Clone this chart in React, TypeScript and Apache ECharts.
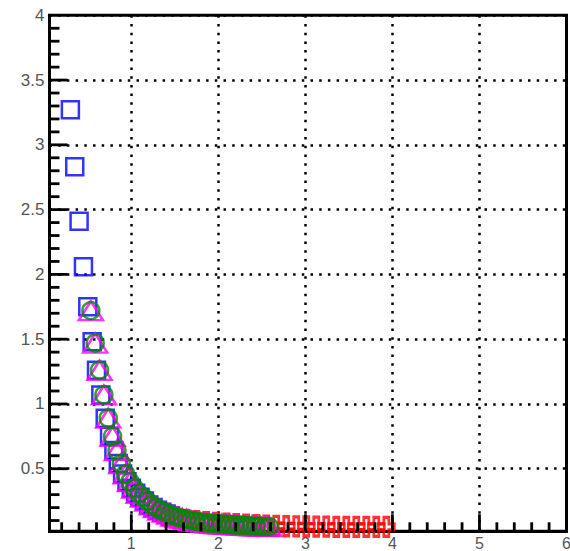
import React, { useEffect, useRef } from "react";
import * as echarts from "echarts";

// Blue open squares
const blueX = [0.30, 0.35, 0.40, 0.45, 0.50, 0.55, 0.60, 0.65, 0.70, 0.75, 0.80, 0.85, 0.90, 0.95, 1.00, 1.05, 1.10, 1.15, 1.20, 1.25, 1.30, 1.35, 1.40, 1.45];
const blueY = [3.27, 2.83, 2.41, 2.06, 1.75, 1.48, 1.26, 1.07, 0.89, 0.75, 0.64, 0.54, 0.46, 0.40, 0.35, 0.31, 0.28, 0.25, 0.22, 0.20, 0.18, 0.165, 0.15, 0.135];

// Green open circles and magenta open triangles (same points)
const greenX = [0.535, 0.585, 0.635, 0.685, 0.735, 0.785, 0.835, 0.885, 0.935, 0.985, 1.035, 1.085, 1.135, 1.185, 1.235, 1.285, 1.335, 1.385, 1.435, 1.485, 1.535, 1.585, 1.635, 1.685, 1.735, 1.785, 1.835, 1.885, 1.935, 1.985, 2.035, 2.085, 2.135, 2.185, 2.235, 2.285, 2.335, 2.385, 2.435, 2.485, 2.535, 2.585];
const greenY = [1.72, 1.47, 1.26, 1.07, 0.89, 0.75, 0.64, 0.54, 0.46, 0.40, 0.35, 0.31, 0.28, 0.25, 0.22, 0.20, 0.18, 0.165, 0.15, 0.135, 0.125, 0.115, 0.11, 0.10, 0.095, 0.09, 0.085, 0.08, 0.078, 0.075, 0.072, 0.07, 0.068, 0.066, 0.064, 0.062, 0.06, 0.058, 0.056, 0.055, 0.054, 0.053];
const magentaX = greenX;
const magentaY = greenY;

// Red open crosses
const redX = [1.40, 1.515, 1.63, 1.745, 1.86, 1.975, 2.09, 2.205, 2.32, 2.435, 2.55, 2.665, 2.78, 2.895, 3.01, 3.125, 3.24, 3.355, 3.47, 3.585, 3.70, 3.815, 3.93];
const redY = [0.14, 0.12, 0.105, 0.095, 0.088, 0.082, 0.077, 0.072, 0.068, 0.064, 0.06, 0.058, 0.056, 0.055, 0.054, 0.053, 0.053, 0.052, 0.052, 0.052, 0.051, 0.051, 0.051];

// Axis tick positions
const xMajorTicks = [1, 2, 3, 4, 5];
const xMinorTicks = [0.2, 0.4, 0.6, 0.8, 1.2, 1.4, 1.6, 1.8, 2.2, 2.4, 2.6, 2.8, 3.2, 3.4, 3.6, 3.8, 4.2, 4.4, 4.6, 4.8, 5.2, 5.4, 5.6, 5.8];
const yMajorTicks = [0.5, 1, 1.5, 2, 2.5, 3, 3.5];
const yMinorTicks = [0.1, 0.2, 0.3, 0.4, 0.6, 0.7, 0.8, 0.9, 1.1, 1.2, 1.3, 1.4, 1.6, 1.7, 1.8, 1.9, 2.1, 2.2, 2.3, 2.4, 2.6, 2.7, 2.8, 2.9, 3.1, 3.2, 3.3, 3.4, 3.6, 3.7, 3.8, 3.9];

const X_MIN = 0.06;
const X_MAX = 6;
const Y_MIN = 0.017;
const Y_MAX = 4;

const zip = (xs: number[], ys: number[]) => xs.map((x, i) => [x, ys[i]]);

const CROSS = "path://M5.5,0 L10.5,0 L10.5,5.5 L16,5.5 L16,10.5 L10.5,10.5 L10.5,16 L5.5,16 L5.5,10.5 L0,10.5 L0,5.5 L5.5,5.5 Z";

const TW = 2.8; // tick thickness

// Tick marks as scatter symbols (thin rects), anchored on the axes' own scales
function xTickSeries(vals: number[], len: number) {
  return {
    type: "scatter",
    silent: true,
    clip: false,
    z: 5,
    data: vals.map((v) => [v, Y_MIN]),
    symbol: "rect",
    symbolSize: [TW, len],
    symbolOffset: [0, -len / 2],
    itemStyle: { color: "#000", opacity: 1 },
  };
}
function yTickSeries(vals: number[], len: number) {
  return {
    type: "scatter",
    silent: true,
    clip: false,
    z: 5,
    data: vals.map((v) => [X_MIN, v]),
    symbol: "rect",
    symbolSize: [len, TW],
    symbolOffset: [len / 2, 0],
    itemStyle: { color: "#000", opacity: 1 },
  };
}

export default function App() {
  const ref = useRef<HTMLDivElement>(null);
  useEffect(() => {
    if (!ref.current) return;
    const chart = echarts.init(ref.current, undefined, { renderer: "svg" });
    const font = "'Liberation Sans', Arial, sans-serif";
    chart.setOption({
      animation: false,
      backgroundColor: "#fff",
      grid: {
        left: 49.5,
        right: 3.5,
        top: 15.3,
        bottom: 19.7,
        show: true,
        borderColor: "#000",
        borderWidth: 3,
        containLabel: false,
        outerBoundsMode: "none",
      },
      xAxis: {
        type: "value",
        min: X_MIN,
        max: X_MAX,
        splitNumber: 5,
        axisLine: { show: true, lineStyle: { color: "#000", width: 3 } },
        axisTick: { show: false },
        minorTick: { show: false },
        splitLine: { show: true, lineStyle: { color: "#000", width: 2.5, type: [2.5, 6.2] } },
        minorSplitLine: { show: false },
        axisLabel: {
          show: true,
          showMinLabel: false,
          color: "#555",
          fontSize: 16,
          lineHeight: 16,
          fontFamily: font,
          margin: 4,
        },
      },
      yAxis: {
        type: "value",
        min: Y_MIN,
        max: Y_MAX,
        splitNumber: 8,
        axisLine: { show: true, lineStyle: { color: "#000", width: 3 } },
        axisTick: { show: false },
        minorTick: { show: false },
        splitLine: { show: true, lineStyle: { color: "#000", width: 2.5, type: [2.5, 6.2] } },
        minorSplitLine: { show: false },
        axisLabel: {
          show: true,
          showMinLabel: false,
          color: "#555",
          fontSize: 17,
          fontFamily: font,
          margin: 5,
        },
      },
      series: [
        xTickSeries(xMajorTicks, 17),
        xTickSeries(xMinorTicks, 9),
        yTickSeries(yMajorTicks, 18),
        yTickSeries(yMinorTicks, 10),
        {
          type: "scatter",
          data: zip(blueX, blueY),
          symbol: "rect",
          symbolSize: 17,
          itemStyle: { color: "rgba(0,0,0,0)", borderColor: "#0000ff", borderWidth: 2.5 },
        },
        {
          type: "scatter",
          data: zip(redX, redY),
          symbol: CROSS,
          symbolSize: [16, 19],
          itemStyle: { color: "rgba(0,0,0,0)", borderColor: "#ff0000", borderWidth: 3 },
        },
        {
          type: "scatter",
          data: zip(magentaX, magentaY),
          symbol: "triangle",
          symbolSize: [24, 19],
          itemStyle: { color: "rgba(0,0,0,0)", borderColor: "#ff00ff", borderWidth: 2.5 },
        },
        {
          type: "scatter",
          data: zip(greenX, greenY),
          symbol: "circle",
          symbolSize: 17,
          itemStyle: { color: "rgba(0,0,0,0)", borderColor: "#008800", borderWidth: 2.5 },
        },
      ],
    });
    return () => chart.dispose();
  }, []);
  return (
    <div
      ref={ref}
      style={{ position: "absolute", left: 0, top: 0, width: 570, height: 551, background: "#fff" }}
    />
  );
}
